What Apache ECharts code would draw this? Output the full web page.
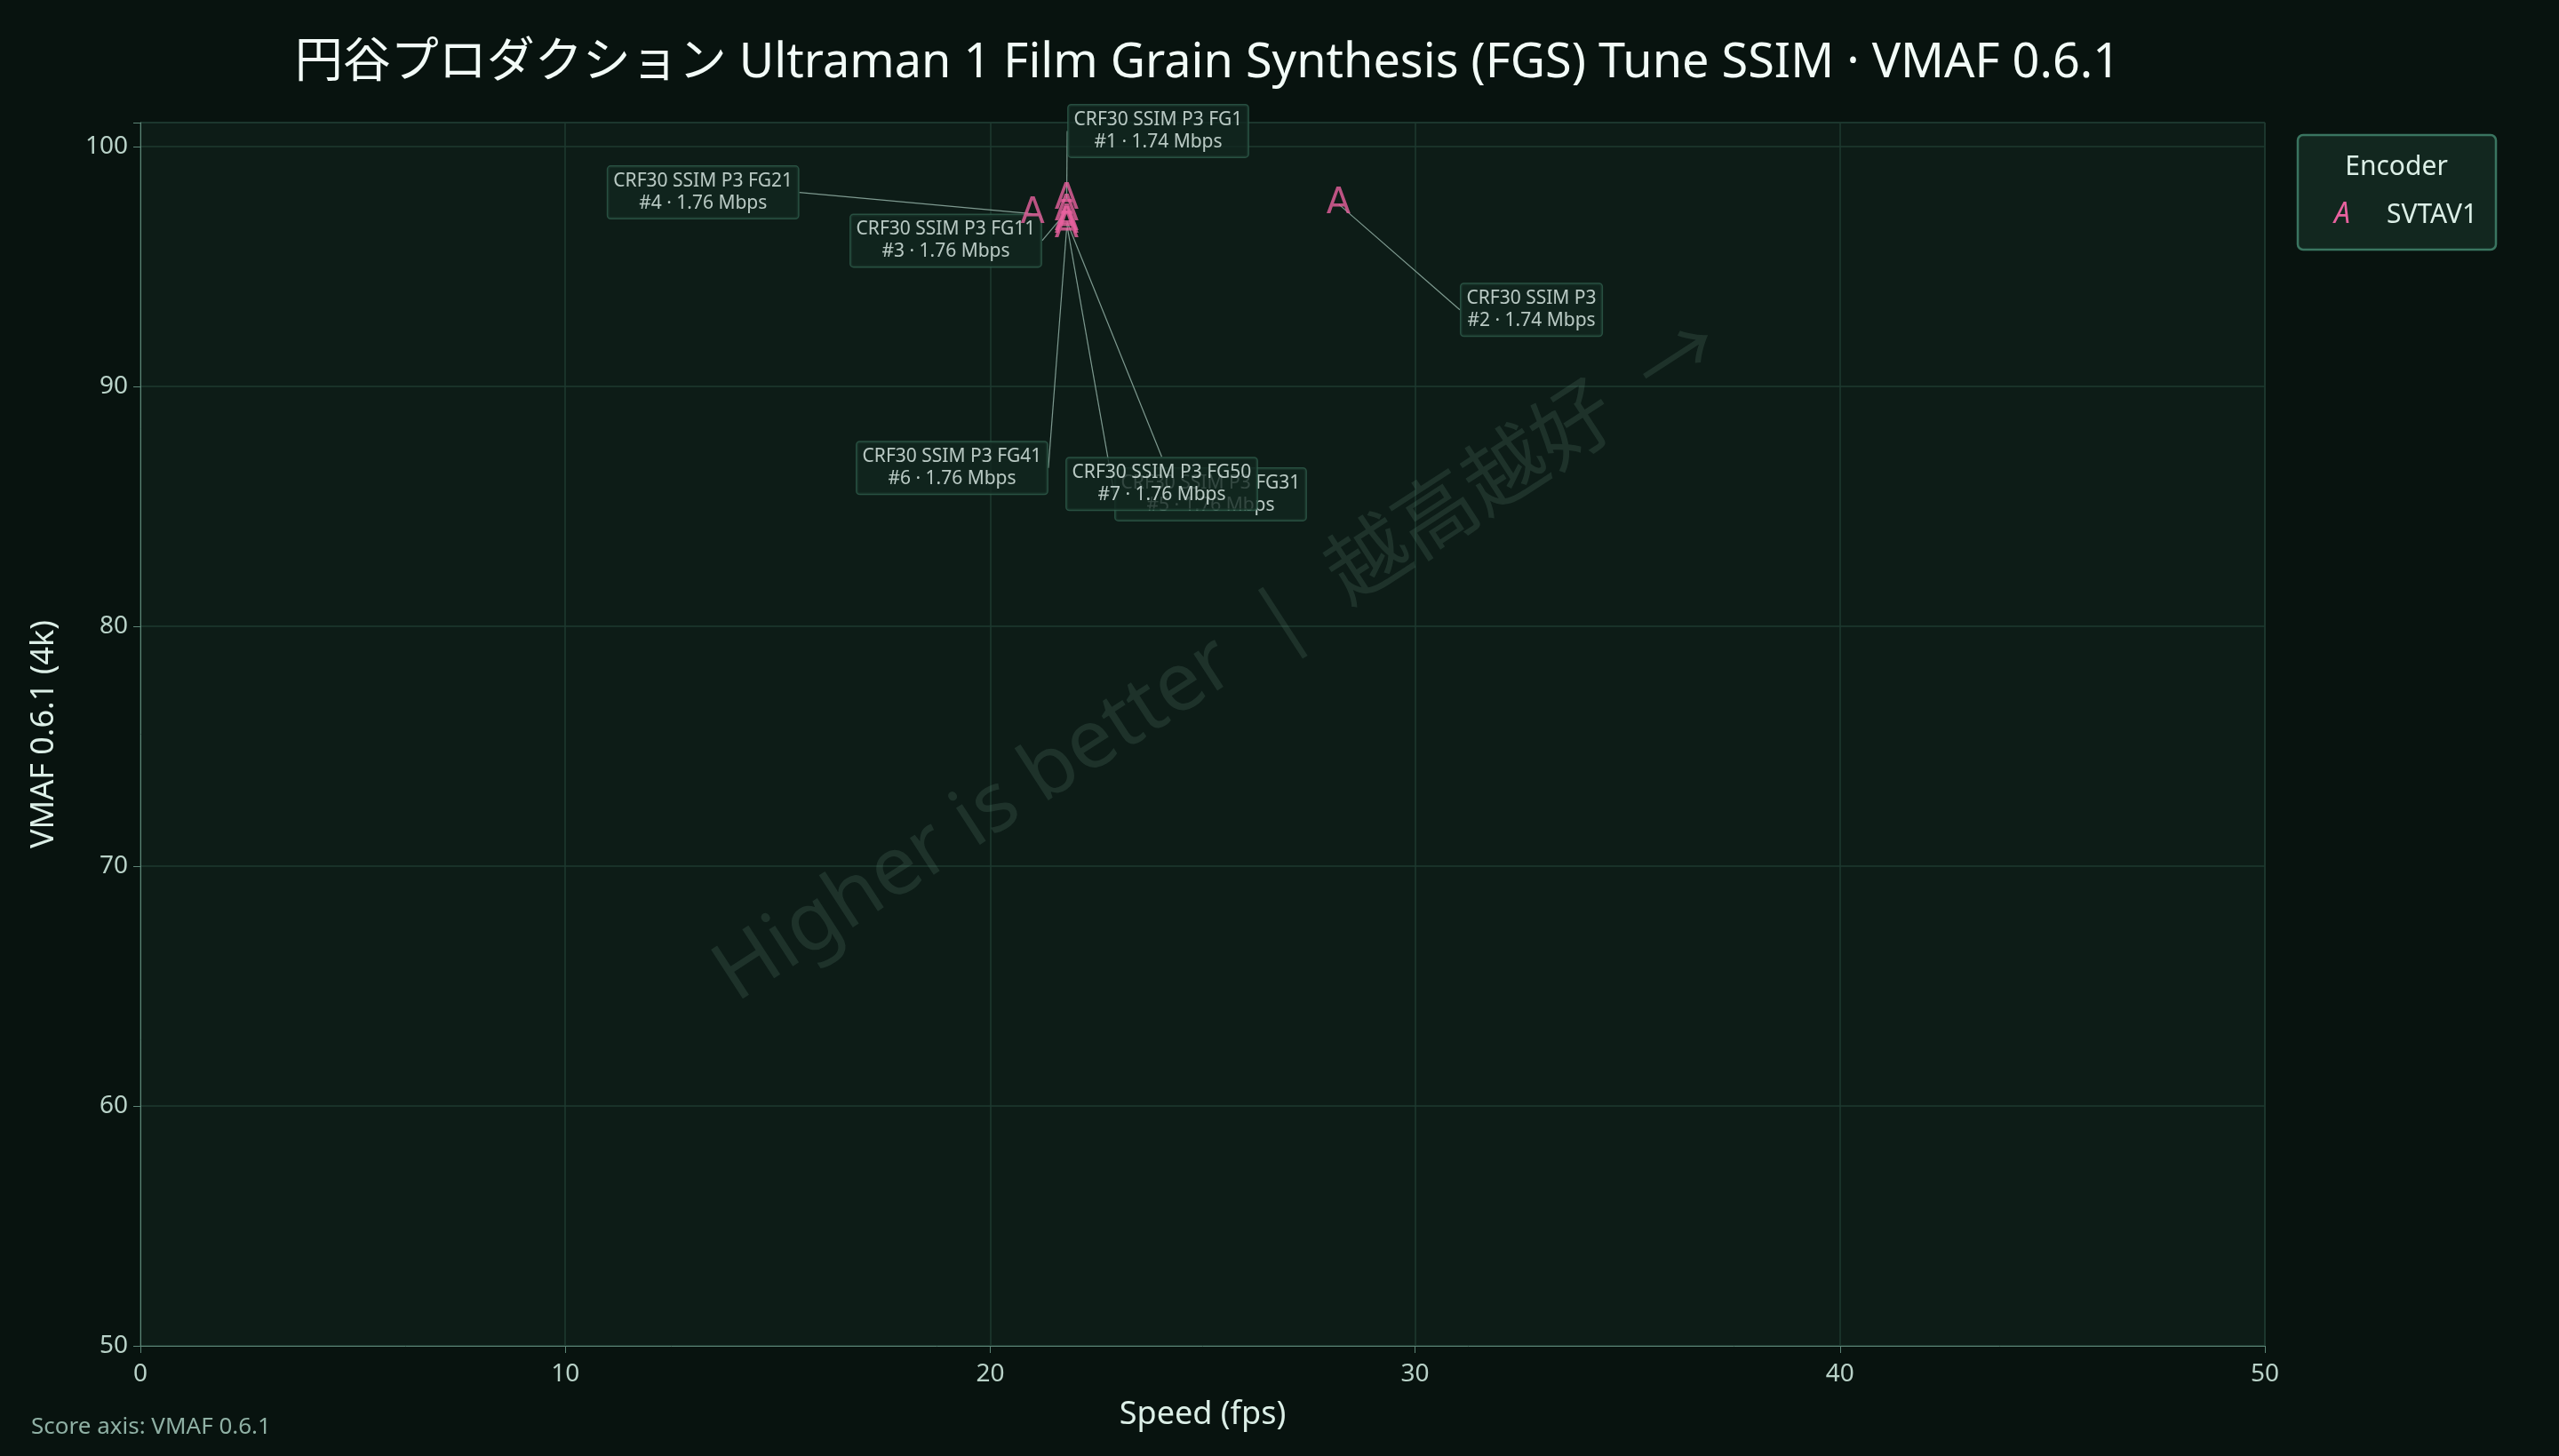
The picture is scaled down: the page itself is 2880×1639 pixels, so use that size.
<!DOCTYPE html>
<html><head><meta charset="utf-8">
<script src="https://cdn.jsdelivr.net/npm/echarts@6/dist/echarts.min.js"></script>
<style>html,body{margin:0;background:#08130f}#c{width:2880px;height:1639px}</style>
</head><body><div id="c"></div>
<script>
const names = ['CRF30 SSIM P3 FG1','CRF30 SSIM P3','CRF30 SSIM P3 FG11','CRF30 SSIM P3 FG21','CRF30 SSIM P3 FG31','CRF30 SSIM P3 FG41','CRF30 SSIM P3 FG50'];
const ranks = [1,2,3,4,5,6,7];
const bitrates = [1.74,1.74,1.76,1.76,1.76,1.76,1.76];
const speeds = [21.8,28.2,21.8,21.0,21.8,21.8,21.8];
const vmaf = [97.8,97.6,97.3,97.2,96.8,96.6,96.9];
const labelOffsets = [[103,-77],[217,119],[-136,33],[-371,-24],[162,305],[-129,270],[107,296]];
const xTicks = [0,10,20,30,40,50];
const yTicks = [50,60,70,80,90,100];

const FONT = '"Noto Sans", "Noto Sans CJK JP", sans-serif';
const TXT = '#dcefe7';
const chart = echarts.init(document.getElementById('c'));
const pts = speeds.map((s,i)=>[s,vmaf[i]]);
chart.setOption({
  backgroundColor:'#08130f',
  title:{text:'円谷プロダクション Ultraman 1 Film Grain Synthesis (FGS) Tune SSIM · VMAF 0.6.1',left:1354,top:40,textAlign:'center',
    textStyle:{color:'#f2fbf7',fontSize:54,fontWeight:'normal',fontFamily:FONT}},
  grid:{left:158,right:331,top:138,bottom:124,show:true,backgroundColor:'#0d1c17',borderColor:'#2b4a40',borderWidth:1},
  xAxis:{type:'value',min:0,max:50,interval:10,name:'Speed (fps)',nameLocation:'middle',nameGap:60,
    nameTextStyle:{color:TXT,fontSize:36,fontFamily:FONT},
    axisLine:{lineStyle:{color:'#5d8577'}},axisTick:{show:true,length:8,lineStyle:{color:'#5d8577'}},
    axisLabel:{color:'#b9d2c8',fontSize:28,fontFamily:FONT,margin:18},
    splitLine:{lineStyle:{color:'#1e3a31',width:1.5}}},
  yAxis:{type:'value',min:50,max:101,interval:10,name:'VMAF 0.6.1 (4k)',nameLocation:'middle',nameGap:90,
    nameTextStyle:{color:TXT,fontSize:36,fontFamily:FONT},
    axisLine:{show:true,lineStyle:{color:'#5d8577'}},axisTick:{show:true,length:8,lineStyle:{color:'#5d8577'}},
    axisLabel:{color:'#b9d2c8',fontSize:28,fontFamily:FONT,margin:14,formatter:v=>yTicks.includes(v)?v:''},
    splitLine:{lineStyle:{color:'#1e3a31',width:1.5}}},
  graphic:[
    {type:'text',left:35,top:1594,style:{text:'Score axis: VMAF 0.6.1',fill:'#8fb0a4',font:'26px '+FONT}},
    {type:'text',x:1372,y:745,rotation:Math.PI*33/180,z:1,silent:true,
      style:{text:'Higher is better  |  越高越好  →',fill:'rgba(90,130,115,0.22)',font:'92px '+FONT,align:'center',verticalAlign:'middle'}},
    {type:'rect',shape:{x:2586,y:152,width:223,height:129,r:6},style:{fill:'#12271f',stroke:'#3a7560',lineWidth:2.5}},
    {type:'text',x:2697,y:188,style:{text:'Encoder',fill:TXT,font:'30px '+FONT,align:'center',verticalAlign:'middle'}},
    {type:'text',x:2636,y:242,style:{text:'A',fill:'#e8629f',font:'italic 32px '+FONT,align:'center',verticalAlign:'middle'}},
    {type:'text',x:2686,y:242,style:{text:'SVTAV1',fill:TXT,font:'30px '+FONT,align:'left',verticalAlign:'middle'}}
  ],
  series:[
    {type:'scatter',name:'callouts',symbolSize:1,itemStyle:{color:'rgba(0,0,0,0)'},z:3,
      labelLayout:p=>({dx:labelOffsets[p.dataIndex][0],dy:labelOffsets[p.dataIndex][1]}),
      labelLine:{show:true,lineStyle:{color:'#7e9a90',width:1.2}},
      label:{show:true,formatter:p=>names[p.dataIndex]+'\n#'+ranks[p.dataIndex]+' · '+bitrates[p.dataIndex].toFixed(2)+' Mbps',
          color:'#e4f3ed',fontSize:21,lineHeight:25,fontFamily:FONT,align:'center',
          backgroundColor:'#12271f',borderColor:'#2f5e4c',borderWidth:1.5,borderRadius:3,padding:[4,6]},
      data:pts},
    {type:'scatter',name:'SVTAV1',symbolSize:1,itemStyle:{color:'rgba(0,0,0,0)'},z:4,
      data:pts,label:{show:true,position:'inside',formatter:'A',color:'#e8629f',fontSize:40,fontFamily:'"DejaVu Sans", sans-serif'}}
  ]
});
</script></body></html>
